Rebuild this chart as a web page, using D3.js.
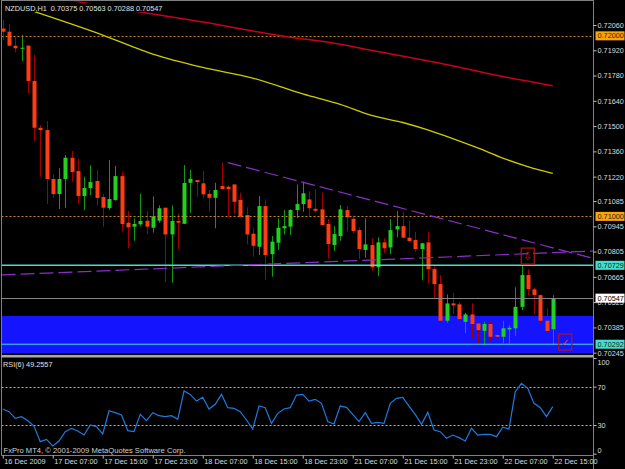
<!DOCTYPE html>
<html>
<head>
<meta charset="utf-8">
<script src="https://cdn.jsdelivr.net/npm/d3@7"></script>
<style>
  body { margin: 0; background: #000; }
  svg text { font-family: "Liberation Sans", Arial, sans-serif; }
</style>
</head>
<body>
<div id="chart"></div>
<script>
// NZDUSD H1 bars, 16 Dec 23:00 .. 22 Dec 15:00
var timeLabels = ["16 Dec 2009", "17 Dec 07:00", "17 Dec 15:00", "17 Dec 23:00", "18 Dec 07:00", "18 Dec 15:00",
  "18 Dec 23:00", "21 Dec 07:00", "21 Dec 15:00", "21 Dec 23:00", "22 Dec 07:00", "22 Dec 15:00"];

var opens = [0.72040,0.72023,0.71945,0.71930,0.71946,0.71750,0.71491,0.71478,0.71207,0.71124,
  0.71207,0.71325,0.71251,0.71113,0.71157,0.71196,0.71107,0.71046,0.71091,0.71223,
  0.70965,0.70943,0.70956,0.70976,0.70937,0.70976,0.71048,0.70900,0.70974,0.70959,
  0.71186,0.71201,0.71183,0.71125,0.71103,0.71168,0.71164,0.71177,0.71091,0.71007,
  0.70904,0.70832,0.71057,0.70791,0.70854,0.70934,0.70943,0.71035,0.71068,0.71094,
  0.71042,0.71039,0.70958,0.70841,0.70891,0.71035,0.70987,0.70924,0.70814,0.70841,
  0.70718,0.70856,0.70828,0.70928,0.70946,0.70882,0.70869,0.70819,0.70856,0.70708,
  0.70625,0.70422,0.70518,0.70513,0.70416,0.70457,0.70407,0.70366,0.70404,0.70343,
  0.70333,0.70374,0.70380,0.70499,0.70675,0.70596,0.70564,0.70422,0.70375];
var highs = [0.72088,0.72066,0.71992,0.72005,0.71946,0.71894,0.71506,0.71528,0.71235,0.71266,
  0.71340,0.71362,0.71318,0.71220,0.71283,0.71257,0.71124,0.71312,0.71279,0.71246,
  0.71029,0.70989,0.71124,0.71029,0.71110,0.71061,0.71048,0.71061,0.71017,0.71284,
  0.71257,0.71201,0.71251,0.71146,0.71186,0.71297,0.71174,0.71177,0.71131,0.71050,
  0.70934,0.71113,0.71094,0.70891,0.70989,0.71035,0.71039,0.71177,0.71192,0.71140,
  0.71150,0.71131,0.70985,0.70946,0.71063,0.71057,0.71006,0.70939,0.70989,0.70878,
  0.70884,0.70878,0.70985,0.71029,0.71026,0.70976,0.70915,0.70854,0.70915,0.70725,
  0.70675,0.70568,0.70577,0.70527,0.70466,0.70518,0.70411,0.70416,0.70422,0.70393,
  0.70422,0.70398,0.70607,0.70730,0.70707,0.70607,0.70568,0.70491,0.70563];
var lows = [0.71977,0.71944,0.71909,0.71861,0.71683,0.71417,0.71220,0.71068,0.71103,0.71041,
  0.71048,0.71192,0.71068,0.71035,0.71118,0.71061,0.70943,0.71035,0.71087,0.70917,
  0.70823,0.70865,0.70946,0.70900,0.70910,0.70965,0.70635,0.70632,0.70819,0.70959,
  0.71020,0.71109,0.71100,0.71026,0.70934,0.71151,0.70998,0.71017,0.70998,0.70845,
  0.70776,0.70786,0.70651,0.70666,0.70814,0.70900,0.70897,0.70992,0.71026,0.70998,
  0.71020,0.70952,0.70767,0.70808,0.70865,0.70915,0.70906,0.70764,0.70771,0.70699,
  0.70669,0.70795,0.70791,0.70884,0.70882,0.70863,0.70804,0.70647,0.70629,0.70546,
  0.70422,0.70411,0.70459,0.70297,0.70352,0.70324,0.70293,0.70287,0.70305,0.70300,
  0.70297,0.70297,0.70337,0.70481,0.70564,0.70460,0.70411,0.70293,0.70288];
var closes = [0.72023,0.71945,0.71931,0.71934,0.71750,0.71491,0.71478,0.71207,0.71124,0.71207,
  0.71325,0.71246,0.71113,0.71157,0.71190,0.71102,0.71048,0.71096,0.71223,0.70958,
  0.70939,0.70958,0.70974,0.70943,0.71000,0.71045,0.70900,0.70974,0.70965,0.71185,
  0.71208,0.71190,0.71122,0.71103,0.71146,0.71151,0.71151,0.71081,0.70998,0.70900,
  0.70837,0.71057,0.70786,0.70860,0.70937,0.70946,0.71035,0.71068,0.71128,0.71045,
  0.71031,0.70952,0.70847,0.70902,0.71039,0.70995,0.70919,0.70819,0.70845,0.70718,
  0.70856,0.70823,0.70924,0.70946,0.70882,0.70863,0.70819,0.70851,0.70708,0.70625,
  0.70422,0.70518,0.70507,0.70431,0.70457,0.70404,0.70370,0.70404,0.70333,0.70333,
  0.70380,0.70383,0.70499,0.70675,0.70597,0.70564,0.70422,0.70365,0.70547];

var rsiValues = [46.7,43.9,36.9,38.7,34.5,28.9,12.6,15.0,8.1,13.3,
  23.0,26.5,23.7,19.5,30.0,28.2,20.6,44.9,42.9,40.4,
  24.1,23.0,41.1,34.5,42.9,39.7,38.7,39.7,35.9,65.5,
  62.0,55.0,58.9,46.7,51.6,62.0,48.1,47.4,43.9,35.2,
  25.8,49.8,48.1,31.7,42.2,46.7,48.1,61.3,62.0,55.0,
  56.8,52.6,33.5,31.0,49.8,48.4,41.1,33.5,42.9,31.7,
  32.8,31.7,52.6,57.8,58.9,49.8,41.1,30.7,43.2,24.8,
  23.0,16.1,19.5,16.8,13.3,26.5,19.5,20.2,20.2,17.8,
  27.6,25.8,64.8,73.5,68.3,52.6,48.1,38.7,49.2557];

// moving averages, read at some bars
var slowMaBars = [8, 12, 22, 32, 45, 54, 59, 70, 80, 88];
var slowMaValues = [0.72222, 0.72190, 0.72132, 0.72076, 0.71998, 0.71953, 0.71920, 0.71848, 0.71775, 0.71724];
var fastMaBars = [4, 16, 24, 32, 40, 48, 54, 59, 64, 68, 72, 76, 80, 84, 88];
var fastMaValues = [0.72146, 0.72004, 0.71899, 0.71825, 0.71766, 0.71678, 0.71620, 0.71559, 0.71520,
  0.71479, 0.71431, 0.71379, 0.71323, 0.71276, 0.71238];

var priceTicks = [0.72060, 0.71920, 0.71780, 0.71640, 0.71500, 0.71360, 0.71220, 0.71085,
  0.70945, 0.70805, 0.70665, 0.70525, 0.70385, 0.70245];
var roundLevels = [0.72000, 0.71000];
var supportLevels = [0.70729, 0.70292];
var zone = [0.70449, 0.70241];
var upperTrend = [[36, 0.71298], [88, 0.70826]];
var lowerTrend = [[0, 0.70676], [88, 0.70799]];
var arrowMark = [84, 0.70780];
var checkMark = [90, 0.70304];
var rsiLevels = [70, 30];

var width = 625, height = 469;
var plotLeft = 1.5, plotRight = 593.5, mainBottom = 355.5, rsiBottom = 455.5;
var n = closes.length;

var svg = d3.select("#chart").append("svg")
  .attr("width", width)
  .attr("height", height)
  .style("background", "#000")
  .style("display", "block");

var x = d3.scaleLinear().domain([0, n - 1]).range([2.75, 552.75]);
var y = d3.scaleLinear().domain([0.70245, 0.72060]).range([352.7, 25]);
var yr = d3.scaleLinear().domain([0, 100]).range([453.7, 358]);
var fmt = d3.format(".5f");

var defs = svg.append("defs");
defs.append("clipPath").attr("id", "clipMain")
  .append("rect").attr("x", 2).attr("y", 1.5).attr("width", 591).attr("height", 353.5);
defs.append("clipPath").attr("id", "clipRsi")
  .append("rect").attr("x", 2).attr("y", 358).attr("width", 591).attr("height", 97);

var main = svg.append("g").attr("clip-path", "url(#clipMain)");

// blue zone (background)
main.append("rect")
  .attr("x", plotLeft).attr("width", plotRight - plotLeft)
  .attr("y", y(zone[0])).attr("height", y(zone[1]) - y(zone[0]))
  .attr("fill", "#1414ff");

// candles
var candles = main.selectAll(".candle")
  .data(d3.range(n))
  .enter().append("g")
    .attr("class", "candle");

candles.append("line")
  .attr("x1", function(i) { return Math.round(x(i)) + 0.5; })
  .attr("x2", function(i) { return Math.round(x(i)) + 0.5; })
  .attr("y1", function(i) { return y(highs[i]); })
  .attr("y2", function(i) { return y(lows[i]); })
  .attr("stroke", function(i) { return closes[i] >= opens[i] ? "#139a13" : "#a20000"; })
  .attr("stroke-width", 1);

candles.append("rect")
  .attr("x", function(i) { return Math.round(x(i)) - 1.5; })
  .attr("width", 4)
  .attr("y", function(i) { return y(Math.max(opens[i], closes[i])); })
  .attr("height", function(i) { return Math.max(1, Math.abs(y(opens[i]) - y(closes[i]))); })
  .attr("fill", function(i) { return closes[i] >= opens[i] ? "#22d022" : "#ff3c12"; });

// horizontal levels
main.selectAll(".round")
  .data(roundLevels)
  .enter().append("line")
    .attr("x1", plotLeft).attr("x2", plotRight)
    .attr("y1", function(d) { return Math.round(y(d)) + 0.5; })
    .attr("y2", function(d) { return Math.round(y(d)) + 0.5; })
    .attr("stroke", "#c8861c")
    .attr("stroke-dasharray", "2,2");

main.selectAll(".support")
  .data(supportLevels)
  .enter().append("line")
    .attr("x1", plotLeft).attr("x2", plotRight)
    .attr("y1", function(d) { return y(d); })
    .attr("y2", function(d) { return y(d); })
    .attr("stroke", "#40e0d0")
    .attr("stroke-width", function(d, i) { return i == 0 ? 1.6 : 1; });

main.append("line")
  .attr("x1", plotLeft).attr("x2", plotRight)
  .attr("y1", Math.round(y(closes[n - 1])) + 0.5)
  .attr("y2", Math.round(y(closes[n - 1])) + 0.5)
  .attr("stroke", "#858585");

// moving averages
var maLine = d3.line()
  .x(function(d) { return x(d[0]); })
  .y(function(d) { return y(d[1]); })
  .curve(d3.curveMonotoneX);

main.append("path")
  .attr("d", maLine(d3.zip(slowMaBars, slowMaValues)))
  .attr("fill", "none").attr("stroke", "#c8001c").attr("stroke-width", 1.5);

main.append("path")
  .attr("d", maLine(d3.zip(fastMaBars, fastMaValues)))
  .attr("fill", "none").attr("stroke", "#cccc00").attr("stroke-width", 1.3);

// trend lines
var rightBar = x.invert(plotRight);
function extend(t, fromBar, toBar) {
  var slope = (t[1][1] - t[0][1]) / (t[1][0] - t[0][0]);
  return [[fromBar, t[0][1] + slope * (fromBar - t[0][0])], [toBar, t[0][1] + slope * (toBar - t[0][0])]];
}
var trendLine = d3.line().x(function(d) { return x(d[0]); }).y(function(d) { return y(d[1]); });

main.append("path")
  .attr("d", trendLine(extend(upperTrend, upperTrend[0][0], rightBar)))
  .attr("fill", "none").attr("stroke", "#8a2fc8").attr("stroke-width", 1.2)
  .attr("stroke-dasharray", "14,5");

main.append("path")
  .attr("d", trendLine(extend(lowerTrend, x.invert(plotLeft), rightBar)))
  .attr("fill", "none").attr("stroke", "#8a2fc8").attr("stroke-width", 1.2)
  .attr("stroke-dasharray", "14,5");

// markers
main.append("rect")
  .attr("x", x(arrowMark[0]) - 6.5).attr("y", y(arrowMark[1]) - 8)
  .attr("width", 13).attr("height", 16)
  .attr("fill", "none").attr("stroke", "#b01414").attr("stroke-width", 1.2);
main.append("text")
  .attr("x", x(arrowMark[0])).attr("y", y(arrowMark[1]))
  .attr("dy", "0.35em").attr("text-anchor", "middle")
  .attr("font-family", "DejaVu Sans").attr("font-size", "11px")
  .attr("fill", "#c81818")
  .text("\u21E9");

main.append("rect")
  .attr("x", x(checkMark[0]) - 6.5).attr("y", y(checkMark[1]) - 8)
  .attr("width", 13).attr("height", 16)
  .attr("fill", "none").attr("stroke", "#b01414").attr("stroke-width", 1.2);
main.append("text")
  .attr("x", x(checkMark[0])).attr("y", y(checkMark[1]))
  .attr("dy", "0.35em").attr("text-anchor", "middle")
  .attr("font-family", "DejaVu Sans").attr("font-size", "10px")
  .attr("fill", "#ff2a2a")
  .text("\u2713");

// title
var title = "NZDUSD,H1  " + [opens[n - 1], highs[n - 1], lows[n - 1], closes[n - 1]].map(fmt).join(" ");
svg.append("rect").attr("x", 4).attr("y", 3).attr("width", 157).attr("height", 9).attr("fill", "#000");
svg.append("text")
  .attr("x", 5).attr("y", 10.5)
  .attr("font-size", "7.3px").attr("fill", "#e0e0e0")
  .style("white-space", "pre")
  .text(title);

// RSI panel
var rsi = svg.append("g").attr("clip-path", "url(#clipRsi)");
rsi.selectAll(".lvl")
  .data(rsiLevels)
  .enter().append("line")
    .attr("x1", plotLeft).attr("x2", plotRight)
    .attr("y1", function(d) { return Math.round(yr(d)) + 0.5; })
    .attr("y2", function(d) { return Math.round(yr(d)) + 0.5; })
    .attr("stroke", "#b0b0b0")
    .attr("stroke-dasharray", "2,2");

rsi.append("path")
  .attr("d", d3.line().x(function(d, i) { return x(i); }).y(function(d) { return yr(d); })(rsiValues))
  .attr("fill", "none").attr("stroke", "#1f7ae0").attr("stroke-width", 1.2);

svg.append("text")
  .attr("x", 3).attr("y", 366.5)
  .attr("font-size", "7.3px").attr("fill", "#e0e0e0")
  .text("RSI(6) " + d3.format(".4f")(rsiValues[n - 1]));

svg.append("text")
  .attr("x", 3.5).attr("y", 452.5)
  .attr("font-size", "7.6px").attr("fill", "#d0d0d0")
  .text("FxPro MT4, \u00A9 2001-2009 MetaQuotes Software Corp.");

// frame
svg.append("line").attr("x1", plotLeft).attr("x2", plotLeft).attr("y1", 0).attr("y2", rsiBottom)
  .attr("stroke", "#808080");
svg.append("line").attr("x1", plotRight).attr("x2", plotRight).attr("y1", 0).attr("y2", height)
  .attr("stroke", "#808080");
svg.append("line").attr("x1", plotLeft).attr("x2", plotRight).attr("y1", 0.5).attr("y2", 0.5)
  .attr("stroke", "#808080");
svg.append("rect").attr("x", plotLeft).attr("y", mainBottom - 0.5).attr("width", plotRight - plotLeft).attr("height", 2.5)
  .attr("fill", "#a8a8a8");

// price axis
var priceAxis = svg.append("g")
  .attr("transform", "translate(" + plotRight + ",0)")
  .call(d3.axisRight(y).tickValues(priceTicks).tickSize(3).tickFormat(fmt));
priceAxis.select(".domain").remove();
priceAxis.selectAll("line").attr("stroke", "#c0c0c0");
priceAxis.selectAll("text").attr("x", 4).attr("font-size", "7.3px")
  .attr("font-family", "Liberation Sans, Arial, sans-serif").attr("fill", "#dcdcdc");

function priceTag(value, bg, fg) {
  var g = svg.append("g").attr("transform", "translate(" + (plotRight + 2) + "," + y(value) + ")");
  g.append("rect").attr("x", 0).attr("y", -4.5).attr("width", 29).attr("height", 9).attr("fill", bg);
  g.append("text").attr("x", 2).attr("dy", "0.35em").attr("font-size", "7.3px").attr("fill", fg).text(fmt(value));
}
roundLevels.forEach(function(v) { priceTag(v, "#ffa500", "#202020"); });
supportLevels.forEach(function(v) { priceTag(v, "#40e0d0", "#202020"); });
priceTag(closes[n - 1], "#ffffff", "#000000");

// RSI axis
var rsiAxis = svg.append("g")
  .attr("transform", "translate(" + plotRight + ",0)")
  .call(d3.axisRight(yr).tickValues([100, 70, 30, 0]).tickSize(3).tickFormat(d3.format("d")));
rsiAxis.select(".domain").remove();
rsiAxis.selectAll("line").attr("stroke", "#c0c0c0");
rsiAxis.selectAll("text").attr("x", 4).attr("font-size", "7.3px")
  .attr("font-family", "Liberation Sans, Arial, sans-serif").attr("fill", "#dcdcdc")
  .attr("dy", function(d) { return d == 100 ? "0.95em" : d == 0 ? "-0.2em" : "0.35em"; });

// time axis
var timeAxis = svg.append("g")
  .attr("transform", "translate(0," + rsiBottom + ")")
  .call(d3.axisBottom(x).tickValues(d3.range(0, n, 8)).tickSize(3)
    .tickFormat(function(d, i) { return timeLabels[i]; }));
timeAxis.select(".domain").attr("d", "M" + plotLeft + ",0H" + plotRight).attr("stroke", "#808080");
timeAxis.selectAll("line").attr("stroke", "#c0c0c0");
timeAxis.selectAll("text").attr("x", 1).attr("y", 3).attr("text-anchor", "start")
  .attr("font-size", "7.3px").attr("font-family", "Liberation Sans, Arial, sans-serif").attr("fill", "#dcdcdc");
</script>
</body>
</html>
